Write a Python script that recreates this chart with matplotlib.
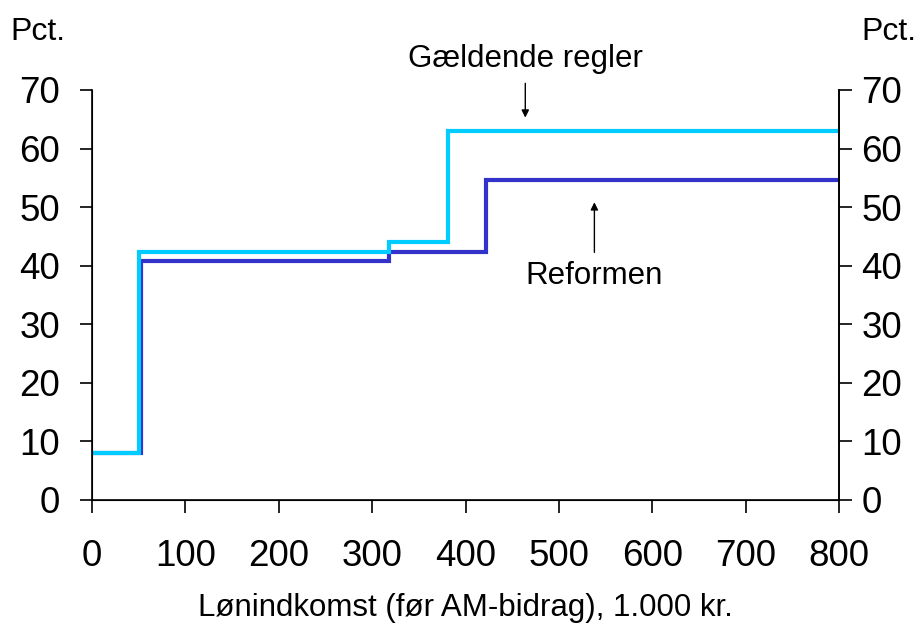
import matplotlib
matplotlib.use("Agg")
import matplotlib.pyplot as plt

plt.rcParams['font.family'] = ['Liberation Sans', 'DejaVu Sans']

gaeld_x = [0, 50, 318, 381, 800]
gaeld_y = [8, 42.3, 44.0, 63.0, 63.0]
reform_x = [0, 52, 318, 422, 800]
reform_y = [8, 40.8, 42.3, 54.7, 54.7]
yticks = [0, 10, 20, 30, 40, 50, 60, 70]
xticks = [0, 100, 200, 300, 400, 500, 600, 700, 800]

fig = plt.figure(figsize=(9.2, 6.26), dpi=100)
ax = fig.add_axes([0.1, 0.2013, 0.812, 0.655])

ax.step(reform_x, reform_y, where='post', color='#3333CC', lw=3.0, solid_joinstyle='miter')
ax.step(gaeld_x, gaeld_y, where='post', color='#00CCFF', lw=3.0, solid_joinstyle='miter')

ax.set_xlim(0, 800)
ax.set_ylim(0, 70)
ax.set_xticks(xticks)
ax.set_yticks(yticks)
ax.spines['top'].set_visible(False)
for s in ['left', 'right', 'bottom']:
    ax.spines[s].set_linewidth(1.2)
ax.tick_params(axis='y', direction='out', length=9, width=1.2, labelsize=26.5, pad=14)
ax.tick_params(axis='x', direction='out', length=9, width=1.2, labelsize=26.5, pad=19)

ax2 = ax.twinx()
ax2.set_ylim(0, 70)
ax2.set_yticks(yticks)
ax2.spines['top'].set_visible(False)
ax2.spines['right'].set_linewidth(1.2)
ax2.tick_params(axis='y', direction='out', length=9, width=1.2, labelsize=26.5, pad=7)

ax.set_xlabel('Lønindkomst (før AM-bidrag), 1.000 kr.', fontsize=22.5, va='center')
ax.xaxis.set_label_coords(0.5, -0.263)

fig.text(0.011, 0.949, 'Pct.', fontsize=23, ha='left', va='center')
fig.text(0.996, 0.949, 'Pct.', fontsize=23, ha='right', va='center')

ax.annotate('', xy=(464, 64.8), xytext=(464, 71.6),
            arrowprops=dict(arrowstyle='-|>', color='black', lw=1, mutation_scale=11),
            annotation_clip=False)
ax.text(464, 75.3, 'Gældende regler', fontsize=22.5, ha='center', va='center', clip_on=False)

ax.annotate('', xy=(538, 51.3), xytext=(538, 41.8),
            arrowprops=dict(arrowstyle='-|>', color='black', lw=1, mutation_scale=11))
ax.text(538, 38.2, 'Reformen', fontsize=22.5, ha='center', va='center')

fig.savefig('out.png', dpi=100)
